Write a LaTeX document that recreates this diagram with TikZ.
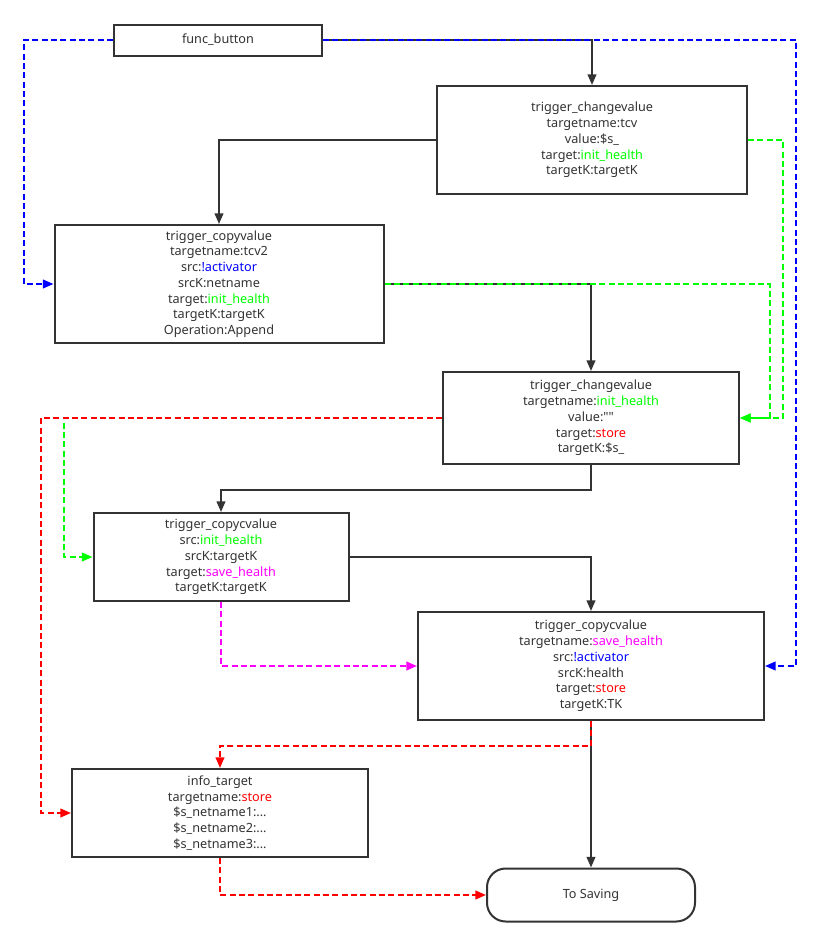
\documentclass[tikz,border=0pt]{standalone}
\usepackage{fontspec}
\setmainfont{Noto Sans}
\usetikzlibrary{arrows.meta}
\definecolor{ink}{HTML}{333333}
\definecolor{cGreen}{HTML}{00FF00}
\definecolor{cBlue}{HTML}{0000FF}
\definecolor{cRed}{HTML}{FF0000}
\definecolor{cMag}{HTML}{FF00FF}
\tikzset{
  box/.style={draw=ink, line width=1.5pt, fill=white, align=center, text=ink,
    font=\fontsize{9.5}{11.8}\selectfont, inner sep=0pt},
  flow/.style={draw=ink, line width=1.5pt, -{Triangle[length=8pt,width=6.5pt]}},
  dline/.style={line width=1.5pt, dash pattern=on 4.5pt off 2.5pt,
    -{Triangle[length=8pt,width=6.5pt]}},
}
\newcommand{\gr}[1]{\textcolor{cGreen}{#1}}
\newcommand{\bl}[1]{\textcolor{cBlue}{#1}}
\newcommand{\rd}[1]{\textcolor{cRed}{#1}}
\newcommand{\mg}[1]{\textcolor{cMag}{#1}}
% straight double quotes, without the TeX quote mapping
\newcommand{\qq}{{\addfontfeature{Ligatures=TeXOff}""}}
\begin{document}
\begin{tikzpicture}[x=0.75pt,y=-0.75pt]
\fill[white] (0,0) rectangle (818,947);
\useasboundingbox (0,0) rectangle (818,947);

% trigger entities
\node[box, minimum width=156pt, minimum height=23.25pt] (fb) at (218,40) {func\_button};
\node[box, minimum width=232.5pt, minimum height=81pt] (b1) at (592,140)
  {trigger\_changevalue\\targetname:tcv\\value:\$s\_\\target:\gr{init\_health}\\targetK:targetK};
\node[box, minimum width=246.75pt, minimum height=88.5pt] (b2) at (219,284)
  {trigger\_copyvalue\\targetname:tcv2\\src:\bl{!activator}\\srcK:netname\\target:\gr{init\_health}\\targetK:targetK\\Operation:Append};
\node[box, minimum width=222pt, minimum height=69pt] (b3) at (591,418)
  {trigger\_changevalue\\targetname:\gr{init\_health}\\value:\qq\\target:\rd{store}\\targetK:\$s\_};
\node[box, minimum width=191.25pt, minimum height=66pt] (b4) at (221,557)
  {trigger\_copycvalue\\src:\gr{init\_health}\\srcK:targetK\\target:\mg{save\_health}\\targetK:targetK};
\node[box, minimum width=259.5pt, minimum height=81pt] (b5) at (591,666)
  {trigger\_copycvalue\\targetname:\mg{save\_health}\\src:\bl{!activator}\\srcK:health\\target:\rd{store}\\targetK:TK};
\node[box, minimum width=222pt, minimum height=66pt] (b6) at (220,813)
  {info\_target\\targetname:\rd{store}\\\$s\_netname1:...\\\$s\_netname2:...\\\$s\_netname3:...};
\node[box, rounded corners=14pt, minimum width=156pt, minimum height=39.75pt] (save) at (591,895) {To Saving};

% control flow
\draw[flow] (fb.east) -| (b1.north);
\draw[flow] (b1.west) -| (b2.north);
\draw[flow] (b2.east) -| (b3.north);
\draw[flow] (b3.south) -- ++(0,25) -| (b4.north);
\draw[flow] (b4.east) -| (b5.north);
\draw[flow] (b5.south) -- (save.north);

% activator references
\draw[dline, cBlue] (fb.west) -- ++(-89,0) |- (b2.west);
\draw[dline, cBlue] (fb.east) -- ++(473,0) |- (b5.east);

% init_health references
\draw[dline, cGreen] (b1.east) -- ++(35,0) |- (b3.east);
\draw[dline, cGreen] (b2.east) -- ++(385,0) |- (b3.east);
\draw[dline, cGreen] (b3.west) -- ++(-378,0) |- (b4.west);

% store references
\draw[dline, cRed] (b3.west) -- ++(-401,0) |- (b6.west);
\draw[dline, cRed] (b5.south) -- ++(0,25) -| (b6.north);
\draw[dline, cRed] (b6.south) |- (save.west);

% save_health reference
\draw[dline, cMag] (b4.south) |- (b5.west);
\end{tikzpicture}
\end{document}
